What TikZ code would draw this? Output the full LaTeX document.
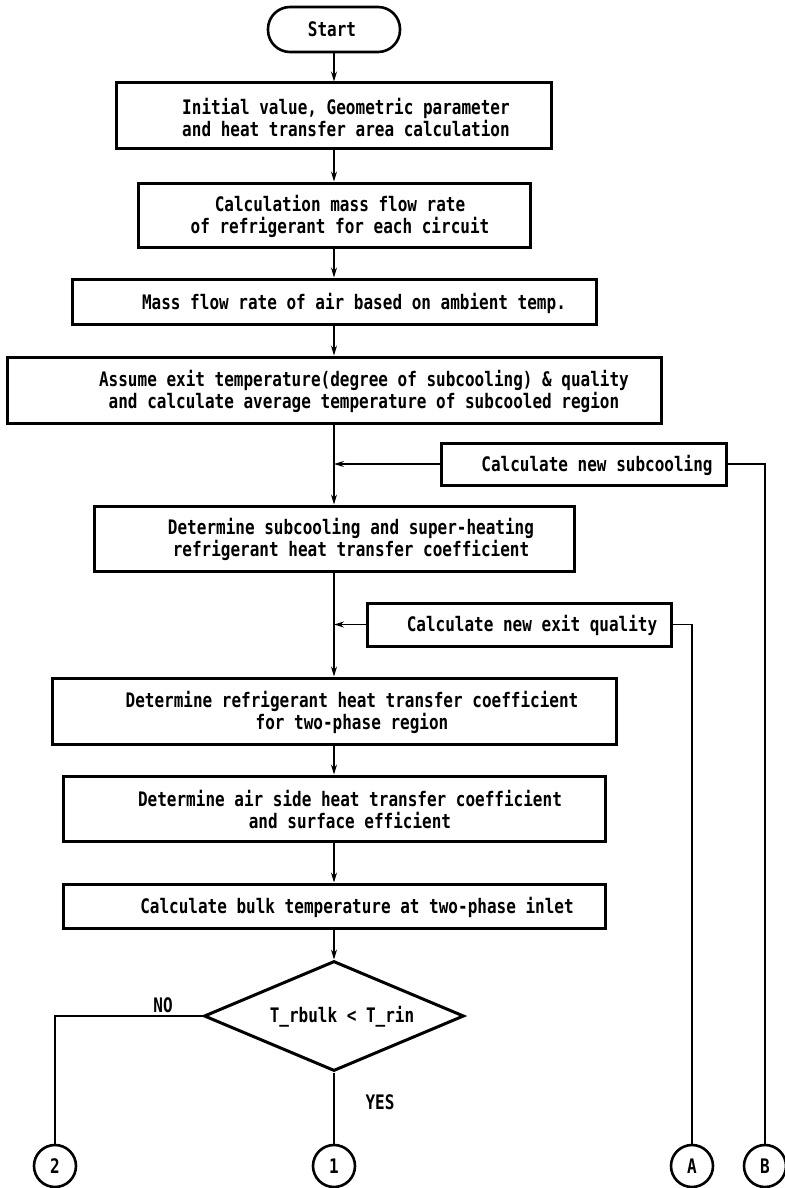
\documentclass[tikz,border=0pt]{standalone}
\usepackage{fontspec}
\newfontfamily\dfont[FakeStretch=0.8]{DejaVu Sans Mono}
\usetikzlibrary{arrows.meta,shapes.geometric}
\tikzset{
  boxn/.style={draw, line width=3pt, rectangle, inner sep=0pt},
  txt/.style={font=\dfont\bfseries\fontsize{20}{22}\selectfont, align=center, inner sep=0pt},
  conn/.style={line width=1.2pt},
  arr/.style={conn, -{Stealth[length=10pt,width=6pt]}},
  termn/.style={draw, line width=2.6pt, rounded corners=22pt, inner sep=0pt},
  circn/.style={draw, circle, line width=2.6pt, minimum size=42pt, inner sep=0pt, font=\dfont\bfseries\fontsize{20}{22}\selectfont},
  decn/.style={draw, diamond, line width=3pt, inner sep=0pt, minimum width=260pt, minimum height=110pt}
}
\begin{document}
\begin{tikzpicture}[x=1pt,y=-1pt]
\useasboundingbox (0,0) rectangle (784,1188);
% terminal
\node[termn, minimum width=132pt, minimum height=45pt] (start) at (334,29.5) {};
\node[txt] (startt) at (332,29.5) {Start};
% process boxes
\node[boxn, minimum width=435pt, minimum height=65pt] (b1) at (334,115.5) {};
\node[txt] (b1t) at (346,117.5) {Initial value, Geometric parameter\\and heat transfer area calculation};
\node[boxn, minimum width=392pt, minimum height=64pt] (b2) at (334,215) {};
\node[txt] (b2t) at (340,216) {Calculation mass flow rate\\of refrigerant for each circuit};
\node[boxn, minimum width=524pt, minimum height=45pt] (b3) at (334,301.5) {};
\node[txt] (b3t) at (354,303) {Mass flow rate of air based on ambient temp.};
\node[boxn, minimum width=654pt, minimum height=66pt] (b4) at (334,390) {};
\node[txt] (b4t) at (364,391) {Assume exit temperature(degree of subcooling) \& quality\\and calculate average temperature of subcooled region};
\node[boxn, minimum width=285pt, minimum height=42pt] (sub) at (583.5,464) {};
\node[txt] (subt) at (597,465) {Calculate new subcooling};
\node[boxn, minimum width=480pt, minimum height=65pt] (b5) at (334,538.5) {};
\node[txt] (b5t) at (351,539.5) {Determine subcooling and super-heating\\refrigerant heat transfer coefficient};
\node[boxn, minimum width=304pt, minimum height=43pt] (exq) at (519,624.5) {};
\node[txt] (exqt) at (532,625) {Calculate new exit quality};
\node[boxn, minimum width=564pt, minimum height=66pt] (b6) at (334,711) {};
\node[txt] (b6t) at (352,712) {Determine refrigerant heat transfer coefficient\\for two-phase region};
\node[boxn, minimum width=542pt, minimum height=65pt] (b7) at (334,808.5) {};
\node[txt] (b7t) at (350,809.5) {Determine air side heat transfer coefficient\\and surface efficient};
\node[boxn, minimum width=542pt, minimum height=44pt] (b8) at (334,906) {};
\node[txt] (b8t) at (357,907) {Calculate bulk temperature at two-phase inlet};
% decision
\node[decn] (dec) at (334,1016) {};
\node[txt] (dect) at (342,1017) {T\_rbulk < T\_rin};
% connectors circles
\node[circn] (c2) at (55,1166) {2};
\node[circn] (c1) at (334,1166) {1};
\node[circn] (cA) at (692,1166) {A};
\node[circn] (cB) at (765,1166) {B};
% main arrows
\draw[arr] (start) -- (b1);
\draw[arr] (b1) -- (b2);
\draw[arr] (b2) -- (b3);
\draw[arr] (b3) -- (b4);
\draw[arr] (b4) -- (b5);
\draw[arr] (b5) -- (b6);
\draw[arr] (b6) -- (b7);
\draw[arr] (b7) -- (b8);
\draw[arr] (b8) -- (dec);
% feedback
\coordinate (j1) at (b4.south |- sub.west);
\coordinate (j2) at (b5.south |- exq.west);
\draw[arr] (sub.west) -- (j1);
\draw[arr] (exq.west) -- (j2);
\draw[conn] (sub.east) -- (cB.north |- sub.east) -- (cB.north);
\draw[conn] (exq.east) -- (cA.north |- exq.east) -- (cA.north);
% decision outputs
\draw[conn] (dec.west) -- (c2.north |- dec.west) -- (c2.north);
\draw[conn] (dec.south) -- (c1.north);
\node[txt] (nolab) at (163,1005) {NO};
\node[txt] (yeslab) at (380,1102) {YES};
\end{tikzpicture}
\end{document}
